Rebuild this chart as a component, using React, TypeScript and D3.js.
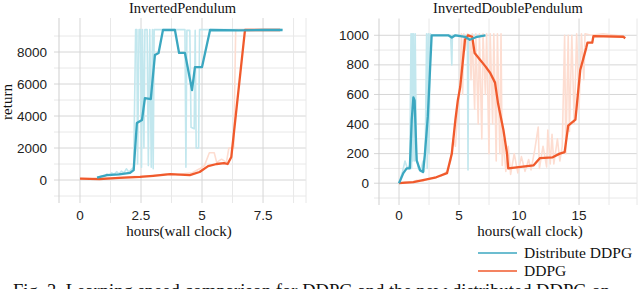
import { useEffect, useRef } from "react"
import * as d3 from "d3"

type Pt = [number, number]

// InvertedPendulum (left) — smoothed + raw, [hours, return]
const ipDistSmooth: Pt[] = [
  [0.7, 150], [1.1, 300], [1.6, 350], [2.05, 440], [2.2, 620], [2.33, 3560], [2.54, 3750],
  [2.66, 5120], [2.9, 5060], [3.07, 7810], [3.22, 7940], [3.4, 9375], [3.89, 9375],
  [4.06, 7940], [4.3, 7940], [4.59, 5625], [4.71, 7060], [5.0, 7060], [5.33, 9375],
  [6.5, 9350], [7.5, 9380], [8.3, 9375],
]
const ipDistRaw: Pt[] = [
  [0.7, 150], [0.9, 250], [1.0, 200], [1.1, 380], [1.2, 300], [1.3, 450], [1.4, 350], [1.5, 520],
  [1.6, 380], [1.7, 560], [1.8, 450], [1.9, 700], [2.0, 500], [2.1, 650], [2.2, 800],
  [2.28, 9400], [2.33, 9400], [2.36, 1000], [2.42, 9400], [2.48, 9400], [2.52, 800], [2.56, 9400],
  [2.62, 2000], [2.66, 9400], [2.75, 9400], [2.8, 900], [2.86, 9400], [2.92, 800], [2.97, 9400],
  [3.0, 700], [3.04, 9400], [3.1, 9400], [4.3, 9400], [4.34, 800], [4.38, 9350], [4.5, 9350],
  [4.55, 3300], [4.68, 3200], [4.72, 9350], [4.76, 2000], [4.86, 2000], [4.9, 9400], [8.3, 9400],
]
const ipDdpgSmooth: Pt[] = [
  [0, 80], [0.8, 60], [1.6, 130], [2.46, 190], [3.0, 260], [3.7, 370], [4.5, 310], [4.9, 500],
  [5.25, 870], [5.6, 1000], [5.9, 1060], [6.05, 1000], [6.2, 1440], [6.76, 9375], [8.2, 9375],
]
const ipDdpgRaw: Pt[] = [
  [0, 100], [0.5, 80], [1.0, 150], [1.5, 120], [2.0, 200], [2.5, 230], [3.0, 280], [3.5, 380],
  [4.0, 330], [4.3, 400], [4.6, 450], [4.9, 700], [5.1, 900], [5.3, 1700], [5.5, 1700],
  [5.6, 1100], [5.8, 1300], [6.0, 1100], [6.1, 2000], [6.3, 2000], [6.38, 9400], [6.5, 9400],
  [8.2, 9400],
]

// InvertedDoublePendulum (right)
const idpDistSmooth: Pt[] = [
  [0, 0], [0.36, 68], [0.64, 100], [0.9, 100], [1.06, 430], [1.2, 580], [1.3, 560], [1.47, 155],
  [1.75, 88], [2.0, 75], [2.15, 190], [2.4, 450], [2.72, 1000], [4.1, 1000], [4.4, 985],
  [4.7, 1000], [5.5, 990], [5.9, 970], [6.5, 990], [7.2, 1000],
]
const idpDistRaw: Pt[] = [
  [0, 0], [0.3, 80], [0.5, 150], [0.7, 100], [0.9, 120], [1.0, 1010], [1.05, 100], [1.1, 1010],
  [1.15, 150], [1.2, 1010], [1.3, 150], [1.35, 1010], [1.45, 200], [1.6, 100], [1.8, 80],
  [2.0, 150], [2.1, 80], [2.2, 300], [2.3, 1010], [2.35, 100], [2.45, 1010], [2.5, 200],
  [2.6, 1010], [2.7, 1000], [4.3, 1000], [4.4, 800], [4.45, 1000], [5.7, 1000], [5.75, 90],
  [5.8, 1000], [7.2, 1000],
]
const idpDdpgSmooth: Pt[] = [
  [0, 0], [1.2, 7], [3.1, 40], [4.0, 68], [4.4, 200], [4.7, 430], [4.9, 560], [5.1, 650],
  [5.5, 970], [5.75, 1000], [6.1, 990], [6.3, 880], [6.75, 835], [7.2, 790], [7.6, 745],
  [8.0, 680], [8.25, 540], [8.7, 360], [9.0, 200], [9.1, 100], [11.2, 120], [11.75, 170],
  [12.8, 175], [13.4, 200], [13.8, 210], [14.1, 390], [14.7, 430], [15.1, 765], [15.6, 915],
  [15.7, 950], [16.1, 950], [16.2, 995], [18.7, 990], [18.85, 980],
]
const idpDdpgRaw: Pt[] = [
  [0, 0], [0.5, 10], [1.0, 5], [1.5, 20], [2.0, 15], [2.5, 30], [3.0, 40], [3.5, 50], [4.0, 80],
  [4.3, 150], [4.5, 300], [4.7, 250], [4.9, 500], [5.1, 700], [5.2, 1010], [5.3, 600],
  [5.4, 1010], [5.5, 900], [5.7, 1010], [5.9, 1000], [6.0, 700], [6.1, 1010], [6.3, 500],
  [6.4, 1010], [6.6, 400], [6.7, 1010], [6.9, 300], [7.0, 1010], [7.2, 600], [7.3, 1010],
  [7.5, 200], [7.6, 1010], [7.8, 400], [7.9, 1010], [8.1, 150], [8.2, 1010], [8.4, 200],
  [8.5, 1010], [8.6, 120], [8.7, 300], [8.9, 80], [9.1, 250], [9.3, 60], [9.6, 200], [9.9, 70],
  [10.2, 180], [10.5, 80], [10.8, 160], [11.0, 90], [11.3, 220], [11.6, 380], [11.7, 100],
  [12.0, 250], [12.3, 110], [12.4, 360], [12.6, 130], [12.75, 330], [12.9, 130], [13.2, 300],
  [13.4, 150], [13.6, 250], [13.8, 1000], [13.9, 200], [14.1, 1000], [14.2, 350], [14.4, 1000],
  [14.6, 400], [14.8, 1010], [15.0, 500], [15.2, 1010], [15.4, 700], [15.5, 1010], [16, 1000],
  [17, 1010], [18, 1000], [18.8, 990],
]

const ipXTicks = [0, 2.5, 5, 7.5]
const ipYTicks = [0, 2000, 4000, 6000, 8000]
const idpXTicks = [0, 5, 10, 15]
const idpYTicks = [0, 200, 400, 600, 800, 1000]

const BLUE = "#3ba7c0"
const BLUE_RAW = "#c2e7ee"
const ORANGE = "#f05a2c"
const ORANGE_RAW = "#fdddd1"
const SERIF = "'Liberation Serif', 'DejaVu Serif', serif"
const SANS = "'Liberation Sans', Arial, sans-serif"

type Panel = {
  title: string
  xDomain: [number, number]
  xRange: [number, number]
  yDomain: [number, number]
  yRange: [number, number]
  xStep: number
  yStep: number
  xTicks: number[]
  yTicks: number[]
  labelX: number
  raw: [Pt[], Pt[]]
  smooth: [Pt[], Pt[]]
  showYLabel: boolean
}

const panels: Panel[] = [
  {
    title: "InvertedPendulum",
    xDomain: [-0.86, 9.26], xRange: [59, 306],
    yDomain: [-1000, 10000], yRange: [196, 20],
    xStep: 1.25, yStep: 1000,
    xTicks: ipXTicks, yTicks: ipYTicks, labelX: 47,
    raw: [ipDistRaw, ipDdpgRaw], smooth: [ipDistSmooth, ipDdpgSmooth],
    showYLabel: true,
  },
  {
    title: "InvertedDoublePendulum",
    xDomain: [-1.667, 19.83], xRange: [379, 637],
    yDomain: [-100, 1100], yRange: [198, 20.5],
    xStep: 2.5, yStep: 100,
    xTicks: idpXTicks, yTicks: idpYTicks, labelX: 369,
    raw: [idpDistRaw, idpDdpgRaw], smooth: [idpDistSmooth, idpDdpgSmooth],
    showYLabel: false,
  },
]

export default function App() {
  const svgRef = useRef<SVGSVGElement>(null)

  useEffect(() => {
    if (!svgRef.current) return
    const svg = d3.select(svgRef.current)
    svg.selectAll("*").remove()

    panels.forEach((p) => {
      const x = d3.scaleLinear().domain(p.xDomain).range(p.xRange)
      const y = d3.scaleLinear().domain(p.yDomain).range(p.yRange)
      const g = svg.append("g")
      const [x0, x1] = p.xRange
      const yBottom = p.yRange[0]
      const yTop = p.yRange[1]

      // * grid: horizontal
      const yLines = d3.range(Math.ceil(p.yDomain[0] / p.yStep), Math.floor(p.yDomain[1] / p.yStep) + 1)
        .map((k) => k * p.yStep)
        .filter((v) => y(v) > yTop + 1)
      yLines.forEach((v) => {
        const major = p.yTicks.includes(v)
        g.append("line")
          .attr("x1", x0 - 5).attr("x2", x1)
          .attr("y1", y(v)).attr("y2", y(v))
          .attr("stroke", major ? "#d6d6d6" : "#e8e8e8")
          .attr("stroke-width", 1)
      })

      // * grid: vertical (incl. domain edges)
      const xLines = d3.range(Math.ceil(p.xDomain[0] / p.xStep), Math.floor(p.xDomain[1] / p.xStep) + 1)
        .map((k) => k * p.xStep)
      ;[...xLines, p.xDomain[0], p.xDomain[1]].forEach((v, i) => {
        const edge = i >= xLines.length
        const major = p.xTicks.includes(v)
        g.append("line")
          .attr("x1", x(v)).attr("x2", x(v))
          .attr("y1", yTop - 2).attr("y2", yBottom + 7)
          .attr("stroke", edge && v === p.xDomain[0] ? "#cfcfcf" : major ? "#d6d6d6" : "#e8e8e8")
          .attr("stroke-width", 1)
      })

      const line = d3.line<Pt>().x((d) => x(d[0])).y((d) => y(d[1]))

      // * raw curves
      p.raw.forEach((data, i) => {
        g.append("path")
          .datum(data)
          .attr("d", line)
          .attr("fill", "none")
          .attr("stroke", i === 0 ? BLUE_RAW : ORANGE_RAW)
          .attr("stroke-width", 1.6)
          .attr("stroke-linejoin", "round")
      })

      // * smoothed curves (DDPG under distributed)
      ;[1, 0].forEach((i) => {
        g.append("path")
          .datum(p.smooth[i])
          .attr("d", line)
          .attr("fill", "none")
          .attr("stroke", i === 0 ? BLUE : ORANGE)
          .attr("stroke-width", 2.3)
          .attr("stroke-linejoin", "round")
      })

      // * tick labels
      p.yTicks.forEach((v) => {
        g.append("text")
          .attr("x", p.labelX)
          .attr("y", y(v))
          .attr("text-anchor", "end")
          .attr("dominant-baseline", "central")
          .attr("font-family", SANS)
          .attr("font-size", "13.5px")
          .attr("fill", "#222")
          .text(v)
      })
      p.xTicks.forEach((v) => {
        g.append("text")
          .attr("x", x(v))
          .attr("y", 220)
          .attr("text-anchor", "middle")
          .attr("font-family", SANS)
          .attr("font-size", "13.5px")
          .attr("fill", "#222")
          .text(v)
      })

      // * title + axis label
      const cx = (x(p.xDomain[0]) + x(p.xDomain[1])) / 2
      g.append("text")
        .attr("x", cx).attr("y", 13)
        .attr("text-anchor", "middle")
        .attr("font-family", SERIF)
        .attr("font-size", "14.5px")
        .attr("fill", "#111")
        .text(p.title)
      g.append("text")
        .attr("x", x(p.xTicks[0]) + (p.showYLabel ? 99 : 131)).attr("y", 236)
        .attr("text-anchor", "middle")
        .attr("font-family", SERIF)
        .attr("font-size", "15px")
        .attr("fill", "#111")
        .text("hours(wall clock)")
      if (p.showYLabel) {
        g.append("text")
          .attr("transform", `translate(12,102) rotate(-90)`)
          .attr("text-anchor", "middle")
          .attr("font-family", SERIF)
          .attr("font-size", "15px")
          .attr("fill", "#111")
          .text("return")
      }
    })

    // * legend
    const legend = [
      { label: "Distribute DDPG", color: BLUE, y: 253 },
      { label: "DDPG", color: ORANGE, y: 271 },
    ]
    legend.forEach((l) => {
      svg.append("line")
        .attr("x1", 478).attr("x2", 517)
        .attr("y1", l.y).attr("y2", l.y)
        .attr("stroke", l.color)
        .attr("stroke-width", 1.6)
      svg.append("text")
        .attr("x", 524).attr("y", l.y + 5)
        .attr("font-family", SERIF)
        .attr("font-size", "15.5px")
        .attr("fill", "#111")
        .text(l.label)
    })

    // * caption (cut off by the frame, as in the source)
    svg.append("text")
      .attr("x", 13).attr("y", 297)
      .attr("font-family", SERIF)
      .attr("font-size", "18.6px")
      .attr("fill", "#111")
      .text("Fig. 3. Learning speed comparison for DDPG and the new distributed DDPG on")
  }, [])

  return (
    <div style={{ position: "fixed", left: 0, top: 0, width: 640, height: 289, background: "#fff" }}>
      <svg ref={svgRef} width={640} height={289} style={{ display: "block" }}></svg>
    </div>
  )
}
